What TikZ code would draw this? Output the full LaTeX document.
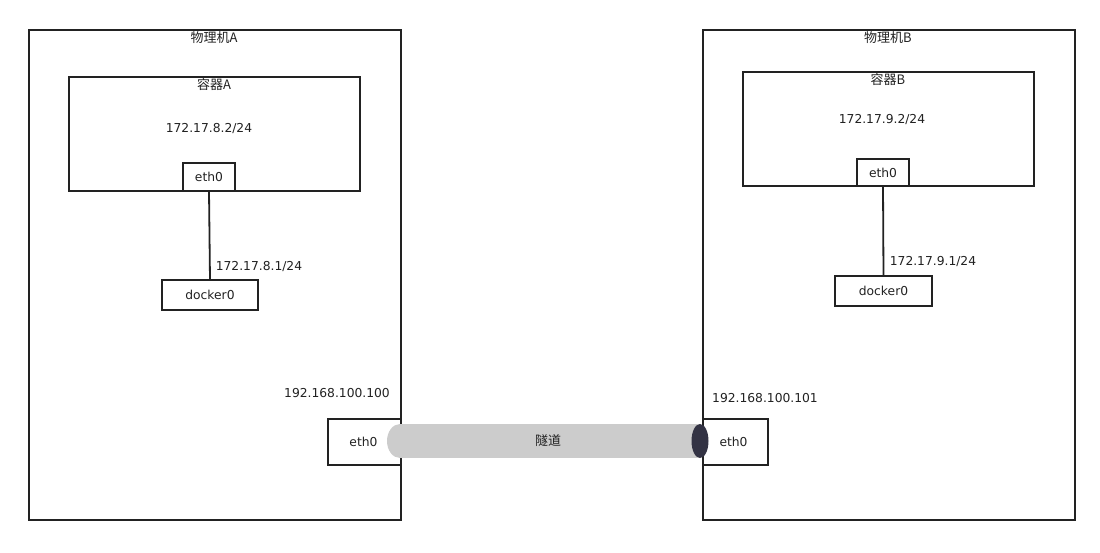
\documentclass[tikz,border=0pt]{standalone}
\usepackage{fontspec}
\setmainfont{DejaVu Sans}
\newfontfamily\cjk{Noto Sans CJK SC}
\definecolor{tunnelgray}{RGB}{204,204,204}
\definecolor{tunneldark}{RGB}{51,51,68}
\definecolor{txt}{RGB}{34,34,34}
\begin{document}
\begin{tikzpicture}[x=1pt,y=-1pt,
  every node/.style={font=\fontsize{12.3}{14}\selectfont,text=txt,inner sep=0pt},
  frame/.style={draw=txt,line width=1.8pt,fill=white,rectangle,anchor=north west,outer sep=0pt},
  lbl/.style={anchor=center},
  zh/.style={anchor=center,font=\cjk\fontsize{13}{15}\selectfont}]
\useasboundingbox (0,0) rectangle (1100,552);
\fill[white] (0,0) rectangle (1100,552);
% host A
\node[frame,minimum width=372pt,minimum height=490pt] (hostA) at (29,30) {};
\node[zh] (hostAt) at (214,38) {物理机A};
\node[frame,minimum width=291pt,minimum height=114pt] (contA) at (69,77) {};
\node[zh] (contAt) at (214,85) {容器A};
\node[lbl] (ipA) at (209,129) {172.17.8.2/24};
\node[frame,minimum width=52pt,minimum height=28pt] (ethA) at (183,163) {};
\node[lbl] at (ethA.center) {eth0};
\node[frame,minimum width=96pt,minimum height=30pt] (dockA) at (162,280) {};
\node[lbl] at (dockA.center) {docker0};
\draw[txt,line width=1.8pt] (ethA.south) -- (dockA.north);
\node[lbl] (dipA) at (259,267) {172.17.8.1/24};
\node[lbl] (pubA) at (337,393) {192.168.100.100};
\node[frame,minimum width=73pt,minimum height=46pt] (nicA) at (328,419) {};
\node[lbl] at ([xshift=-1pt]nicA.center) {eth0};
% host B
\node[frame,minimum width=372pt,minimum height=490pt] (hostB) at (703,30) {};
\node[zh] (hostBt) at (888,38) {物理机B};
\node[frame,minimum width=291pt,minimum height=114pt] (contB) at (743,72) {};
\node[zh] (contBt) at (888,80) {容器B};
\node[lbl] (ipB) at (882,120) {172.17.9.2/24};
\node[frame,minimum width=52pt,minimum height=27pt] (ethB) at (857,159) {};
\node[lbl] at (ethB.center) {eth0};
\node[frame,minimum width=97pt,minimum height=30pt] (dockB) at (835,276) {};
\node[lbl] at (dockB.center) {docker0};
\draw[txt,line width=1.8pt] (ethB.south) -- (dockB.north);
\node[lbl] (dipB) at (933,262) {172.17.9.1/24};
\node[lbl] (pubB) at (765,398) {192.168.100.101};
\node[frame,minimum width=65pt,minimum height=46pt] (nicB) at (703,419) {};
\node[lbl] at ([xshift=-2pt]nicB.center) {eth0};
% tunnel
\fill[tunnelgray] (400,441) ellipse [x radius=13, y radius=17];
\fill[tunnelgray] (400,424) rectangle (700,458);
\fill[tunneldark] (700,441) ellipse [x radius=8.5, y radius=17];
\node[zh] (tunnel) at (548,441) {隧道};
\end{tikzpicture}
\end{document}
